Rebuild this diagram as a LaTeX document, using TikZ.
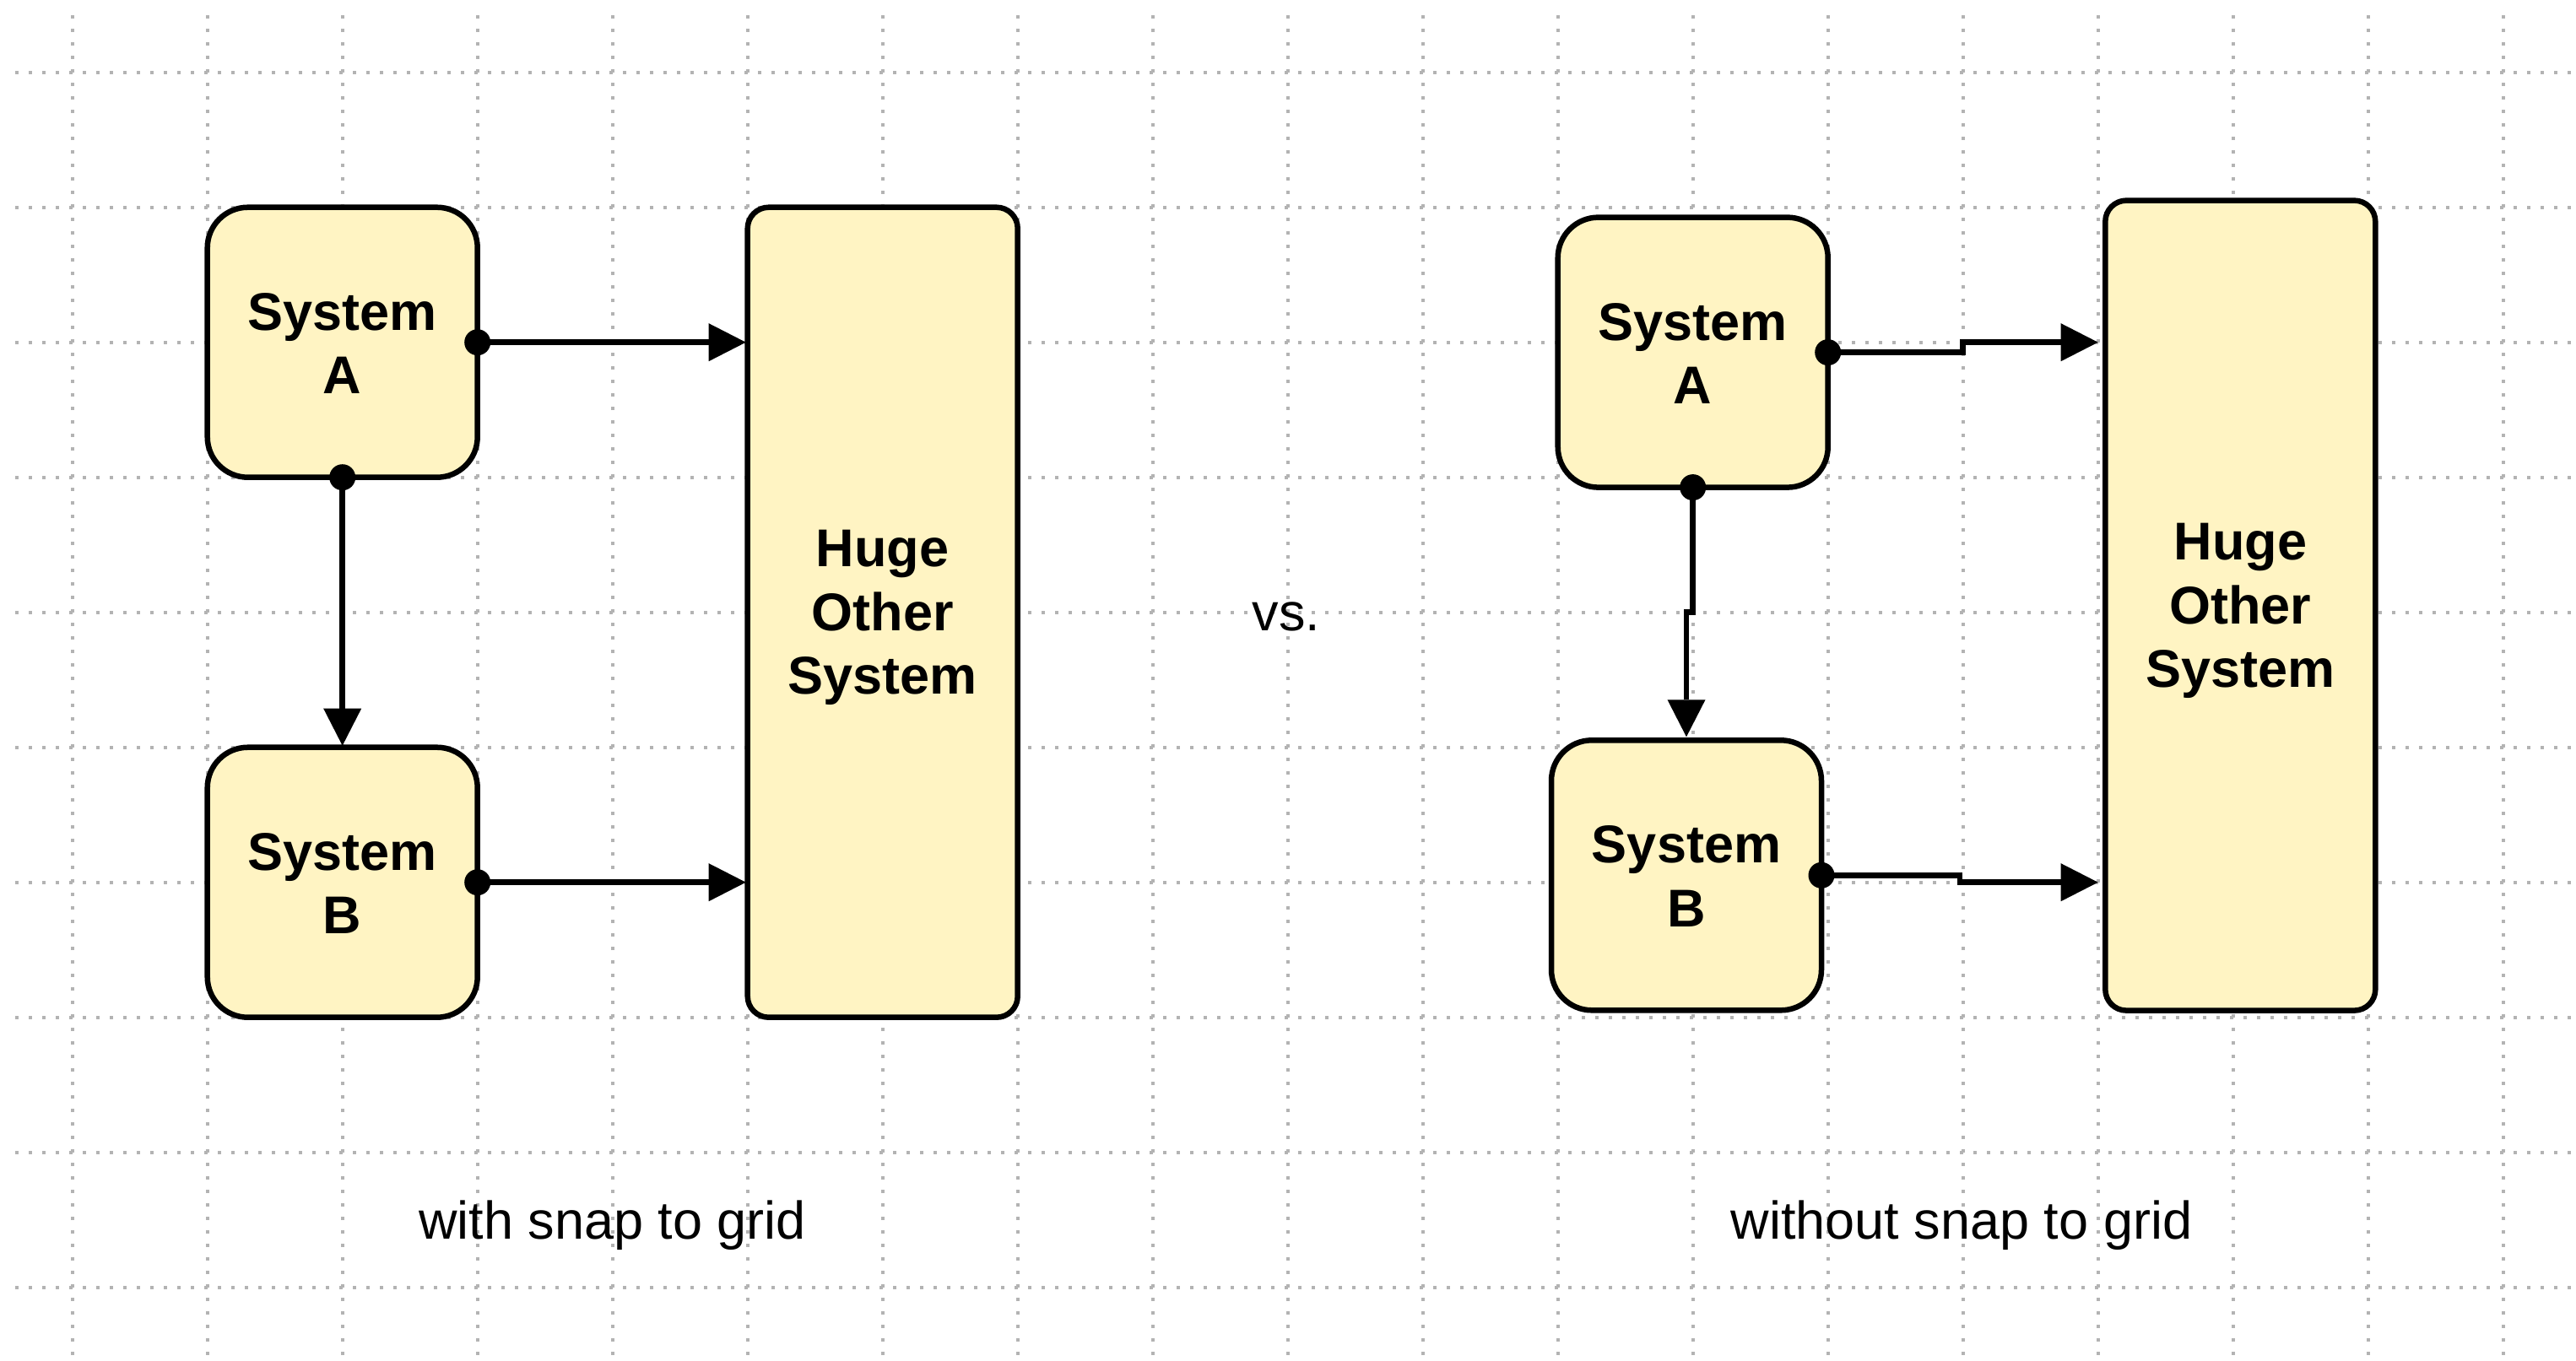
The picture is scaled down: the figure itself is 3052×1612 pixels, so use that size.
\documentclass[tikz,border=0pt]{standalone}
\usepackage{fontspec}
\setmainfont{Liberation Sans}
\usetikzlibrary{arrows.meta}
\definecolor{boxfill}{HTML}{FFF4C3}
\definecolor{griddot}{HTML}{B3B3B3}
\begin{document}
\begin{tikzpicture}[x=1pt,y=-1pt,
  sysbox/.style={draw=black, fill=boxfill, line width=6.5pt, rounded corners=48pt,
    minimum width=320pt, minimum height=320pt, inner sep=0pt, outer sep=0pt},
  bigbox/.style={sysbox, rounded corners=25pt, minimum height=960pt},
  boxlabel/.style={font=\fontsize{63}{75.6}\selectfont\bfseries, align=center, inner sep=0pt},
  caption/.style={font=\fontsize{63}{75.6}\selectfont, inner sep=0pt, anchor=base},
  conn/.style={draw=black, line width=6.5pt, -{Triangle[length=44pt,width=45pt,line width=0pt]}},
  gridline/.style={draw=griddot, line width=4pt, dash pattern=on 4pt off 12pt},
  startdot/.style={fill=black}
]
\useasboundingbox (0,0) rectangle (3052,1612);
\fill[white] (0,0) rectangle (3052,1612);
% grid
\foreach \k in {0,...,18} {
  \draw[gridline] ({85.7+160*\k},18) -- ({85.7+160*\k},1612);
}
\foreach \k in {0,...,9} {
  \draw[gridline] (18,{85.7+160*\k}) -- (3052,{85.7+160*\k});
}
% left diagram (with snap to grid)
\node[sysbox] (LA) at (405.7,405.7) {};
\node[sysbox] (LB) at (405.7,1045.7) {};
\node[bigbox] (LH) at (1045.7,725.7) {};
\node[boxlabel, yshift=-1.2pt] (LAt) at (LA.center) {System\\A};
\node[boxlabel, yshift=-1.2pt] (LBt) at (LB.center) {System\\B};
\node[boxlabel, yshift=-6.4pt] (LHt) at (LH.center) {Huge\\Other\\System};
\draw[conn, shorten >=2pt] (LA.east) -- (LA.east -| LH.west);
\draw[conn, shorten >=2pt] (LA.south) -- (LB.north);
\draw[conn, shorten >=2pt] (LB.east) -- (LB.east -| LH.west);
\fill[startdot] (LA.east) circle[radius=15.5pt];
\fill[startdot] (LA.south) circle[radius=15.5pt];
\fill[startdot] (LB.east) circle[radius=15.5pt];
% right diagram (without snap to grid)
\node[sysbox] (RA) at (2005.7,417.6) {};
\node[sysbox] (RB) at (1998,1037.3) {};
\node[bigbox] (RH) at (2654.3,717.6) {};
\node[boxlabel, yshift=-1.2pt] (RAt) at (RA.center) {System\\A};
\node[boxlabel, yshift=-1.2pt] (RBt) at (RB.center) {System\\B};
\node[boxlabel, yshift=-6.4pt] (RHt) at (RH.center) {Huge\\Other\\System};
\coordinate (ra1) at (2325.7,405.7);
\coordinate (ab1) at (1998,725.7);
\coordinate (rb1) at (2322,1045.7);
\draw[conn, shorten >=8.6pt] (RA.east) -- (RA.east -| ra1) -- (ra1) -- (ra1 -| RH.west);
\draw[conn, shorten >=4pt] (RA.south) |- (ab1) -- (RB.north);
\draw[conn, shorten >=8.6pt] (RB.east) -- (RB.east -| rb1) -- (rb1) -- (rb1 -| RH.west);
\fill[startdot] (RA.east) circle[radius=15.5pt];
\fill[startdot] (RA.south) circle[radius=15.5pt];
\fill[startdot] (RB.east) circle[radius=15.5pt];
% texts
\node[caption] (vs) at (1524,747) {vs.};
\node[caption] (cap1) at (725.7,1468) {with snap to grid};
\node[caption] (cap2) at (2324,1468) {without snap to grid};
\end{tikzpicture}
\end{document}
